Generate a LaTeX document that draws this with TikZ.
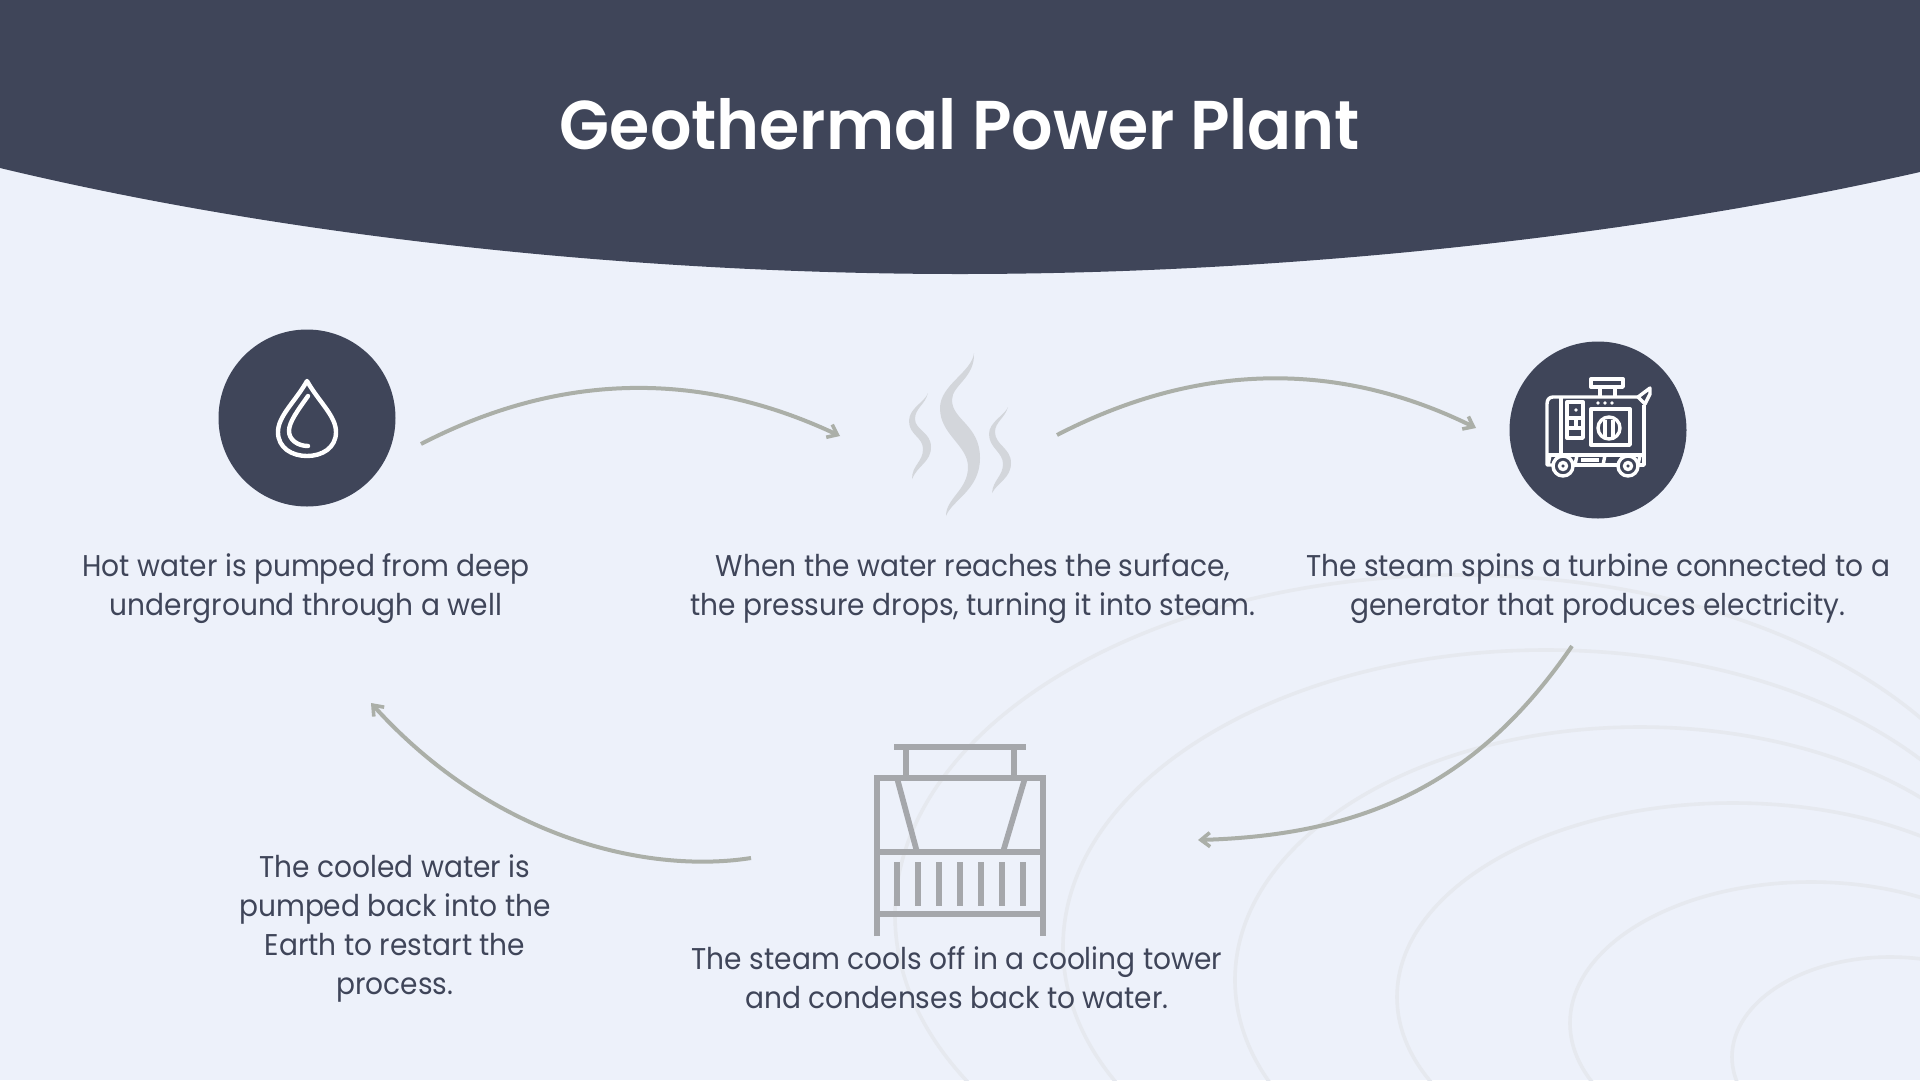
\documentclass[tikz,border=0pt]{standalone}
\usepackage{fontspec}
\setmainfont[FakeStretch=.935]{Poppins}
\newfontfamily\titlefont[FakeStretch=.943]{Poppins SemiBold}
\usetikzlibrary{arrows.meta}
\definecolor{bgc}{HTML}{EDF1FA}
\definecolor{navy}{HTML}{3F4559}
\definecolor{arrowc}{HTML}{ABAFA8}
\definecolor{towerc}{HTML}{A5A7AB}
\definecolor{steamc}{HTML}{D3D6DB}
\definecolor{ripplec}{HTML}{E6E9EF}
\tikzset{x=1pt,y=-1pt,
 body/.style={text=navy,font=\fontsize{30}{39}\selectfont,align=center,inner sep=0pt},
 flow/.style={draw=arrowc,line width=4pt,-{Straight Barb[length=9pt,width=14pt,line width=3.6pt]}},
 ripple/.style={draw=ripplec,line width=3.6pt},
 tower/.style={draw=towerc,line width=5.7pt},
 icon/.style={draw=white,line width=3.4pt,line join=round},
 dropline/.style={draw=white,line width=4.4pt,line join=round},
 badge/.style={circle,fill=navy,minimum size=177pt,inner sep=0pt}}
\begin{document}
\begin{tikzpicture}
\path[use as bounding box,fill=bgc] (0,0) rectangle (1920,1080);
\begin{scope}
\clip (0,0) rectangle (1920,1080);
\draw[ripple] (1890,1057) ellipse [x radius=158pt,y radius=100pt];
\draw[ripple] (1811,1023) ellipse [x radius=241pt,y radius=141pt];
\draw[ripple] (1733,997) ellipse [x radius=336pt,y radius=194pt];
\draw[ripple] (1640,980) ellipse [x radius=405pt,y radius=253pt];
\draw[ripple] (1546,947) ellipse [x radius=483pt,y radius=297pt];
\draw[ripple] (1460,915) ellipse [x radius=565pt,y radius=340pt];
\end{scope}
\fill[navy] (0,0) -- (0,168) .. controls (300,240) and (650,274) .. (960,274) .. controls (1270,274) and (1620,240) .. (1920,172) -- (1920,0) -- cycle;
\node[text=white,font=\titlefont\fontsize{69}{80}\selectfont,inner sep=0pt] (title) at (960,124) {Geothermal Power Plant};
\node[badge] (c1) at (307,418) {};
\node[badge] (c2) at (1598,430) {};
\node[body] (t1) at (306,589) {Hot water is pumped from deep\\underground through a well};
\node[body] (t2) at (973,589) {When the water reaches the surface,\\the pressure drops, turning it into steam.};
\node[body] (t3) at (1598,589) {The steam spins a turbine connected to a\\generator that produces electricity.};
\node[body] (t4) at (957,978) {The steam cools off in a cooling tower\\and condenses back to water.};
\node[body] (t5) at (395,928) {The cooled water is\\pumped back into the\\Earth to restart the\\process.};
\coordinate (a1s) at (421,444); \coordinate (a1e) at (840,436);
\coordinate (a2s) at (1057,435); \coordinate (a2e) at (1476,428);
\coordinate (a3s) at (1572,646); \coordinate (a3e) at (1198,840);
\coordinate (a4s) at (751,858); \coordinate (a4e) at (371,703);
\draw[flow] (a1s) .. controls (560,372) and (700,370) .. (a1e);
\draw[flow] (a2s) .. controls (1200,361) and (1340,361) .. (a2e);
\draw[flow] (a3s) .. controls (1480,780) and (1370,835) .. (a3e);
\draw[flow] (a4s) .. controls (650,874) and (495,840) .. (a4e);
% drop
\draw[dropline] (307,381) .. controls (295,402) and (278,416) .. (278,432) .. controls (278,448) and (292,456) .. (307,456) .. controls (322,456) and (336,448) .. (336,432) .. controls (336,416) and (319,402) .. (307,381) -- cycle;
\draw[dropline,line cap=round] (308,396) .. controls (298,410) and (289,422) .. (289,431) .. controls (289,440) and (298,446) .. (308,446);
% steam
\fill[steamc] (974,353) .. controls (972,372) and (940,385) .. (940,408) .. controls (940,435) and (968,445) .. (968,467) .. controls (968,490) and (946,498) .. (946,516) .. controls (952,500) and (980,490) .. (980,458) .. controls (980,425) and (952,420) .. (952,400) .. controls (952,385) and (975,378) .. (974,353) -- cycle;
\fill[steamc] (928,393) .. controls (925,402) and (909,408) .. (909,421) .. controls (909,435) and (923,437) .. (923,449) .. controls (923,462) and (912,465) .. (912,479) .. controls (918,465) and (931,462) .. (931,447) .. controls (931,432) and (915,430) .. (915,419) .. controls (915,408) and (925,405) .. (928,393) -- cycle;
\fill[steamc] (1008,407) .. controls (1005,415) and (989,422) .. (989,434) .. controls (989,448) and (1003,452) .. (1003,464) .. controls (1003,476) and (993,480) .. (992,493) .. controls (998,482) and (1011,478) .. (1011,463) .. controls (1011,448) and (995,445) .. (995,432) .. controls (995,422) and (1005,418) .. (1008,407) -- cycle;
% generator
\begin{scope}[icon]
\draw (1591,379) rectangle (1623,387);
\draw (1600,387) -- (1600,397) (1615,387) -- (1615,397);
\draw (1638,397) -- (1553,397) .. controls (1549,397) and (1547,400) .. (1547,404) -- (1547,465) -- (1552,465);
\draw (1572,465) -- (1620,465) (1636,465) -- (1644,465) -- (1644,405);
\draw (1561,397) -- (1561,455) (1547,455) -- (1644,455);
\draw (1638,397) -- (1650,388) -- (1650,394) -- (1645,404) -- cycle;
\draw (1567,402) rectangle (1583,438);
\draw (1567,418) -- (1583,418) (1567,428) -- (1583,428);
\draw (1576,418) -- (1576,428);
\draw (1591,409) rectangle (1630,445);
\draw (1609,428) circle (11pt);
\draw (1605,420) -- (1605,437) (1613,420) -- (1613,437);
\draw (1550,455) -- (1548,465) (1577,455) -- (1575,465) (1605,455) -- (1603,465) (1640,455) -- (1638,465);
\draw (1563,466) circle (10pt);
\draw (1563,466) circle (3.5pt);
\draw (1628,466) circle (10pt);
\draw (1628,466) circle (3.5pt);
\draw (1581,460) -- (1599,460);
\end{scope}
\foreach \x in {1598,1605,1612} \fill[white] (\x,403) circle (1.8pt);
\fill[white] (1576,410) circle (1.8pt);
% tower
\begin{scope}[tower]
\draw (894,747) -- (1026,747);
\draw (906,747) -- (906,778) (1014,747) -- (1014,778);
\draw (877,936) -- (877,778) -- (1043,778) -- (1043,936);
\draw (877,852) -- (1043,852) (877,914) -- (1043,914);
\draw (897,778) -- (917,852) (1025,778) -- (1003,852);
\foreach \x in {897,918,939,960,981,1002,1023} \draw (\x,862) -- (\x,906);
\end{scope}
\end{tikzpicture}
\end{document}
